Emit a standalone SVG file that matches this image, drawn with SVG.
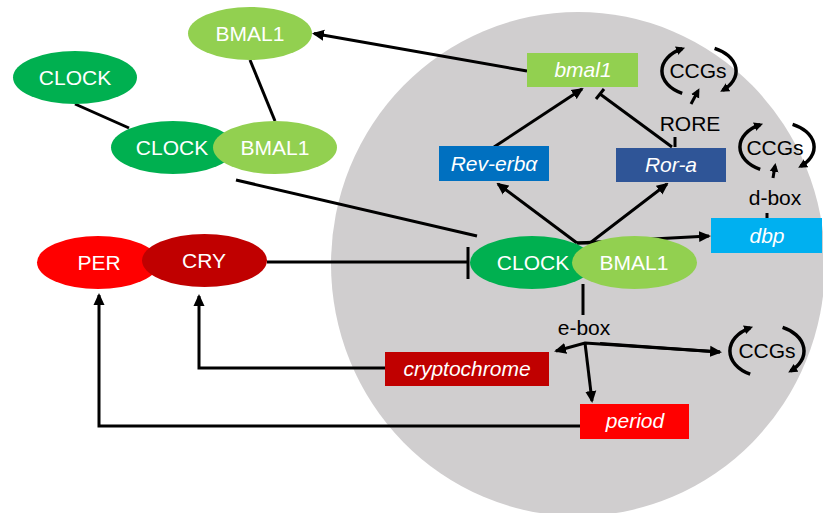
<svg xmlns="http://www.w3.org/2000/svg" width="823" height="513" viewBox="0 0 823 513">
<defs>
<style>
.t{font-family:"Liberation Sans",Arial,sans-serif;font-size:21px;text-anchor:middle}
.w{fill:#fff}
.k{fill:#000}
.i{font-style:italic}
.c{stroke:#000;stroke-width:3;fill:none}
.a{stroke:#000;stroke-width:3.5;fill:none}
</style>
<marker id="arr" markerUnits="userSpaceOnUse" viewBox="0 0 12 12" markerWidth="12" markerHeight="12" refX="10" refY="6" orient="auto"><path d="M0,0.5 L12,6 L0,11.5 z" fill="#000"/></marker>
<marker id="sarr" markerUnits="userSpaceOnUse" viewBox="0 0 10 10" markerWidth="10" markerHeight="10" refX="6" refY="5" orient="auto"><path d="M0,0.5 L9,5 L0,9.5 z" fill="#000"/></marker>
</defs>
<rect width="823" height="513" fill="#fff"/>
<ellipse id="nucleus" cx="578" cy="264" rx="247" ry="252" fill="#D0CECF"/>

<g id="connectors">
<line class="c" x1="527" y1="71" x2="314" y2="33.5" marker-end="url(#arr)"/>
<line class="c" x1="250" y1="60" x2="275" y2="121"/>
<line class="c" x1="75" y1="104" x2="129" y2="128"/>
<line class="c" x1="236" y1="180" x2="477" y2="236"/>
<line class="c" x1="267" y1="262" x2="468" y2="262"/>
<line class="c" x1="468" y1="247" x2="468" y2="279"/>
<line class="c" x1="577" y1="243" x2="498" y2="184" marker-end="url(#arr)"/>
<polyline class="c" points="577,243 590,243 667,184" marker-end="url(#arr)"/>
<line class="c" x1="577" y1="243" x2="709" y2="236" marker-end="url(#arr)"/>
<line class="c" x1="494" y1="147" x2="582" y2="89" marker-end="url(#arr)"/>
<line class="c" x1="672" y1="147" x2="600" y2="94"/>
<line class="c" x1="596" y1="99" x2="604" y2="89"/>
<line class="c" x1="675" y1="147" x2="675" y2="137"/>
<line class="c" x1="691" y1="104" x2="698" y2="91" marker-end="url(#sarr)"/>
<line class="c" x1="767" y1="213" x2="767" y2="218"/>
<line class="c" x1="773" y1="178" x2="775" y2="166" marker-end="url(#sarr)"/>
<line class="c" x1="583" y1="284" x2="583" y2="315"/>
<polyline class="c" points="720,352 585,343 556,351" marker-end="url(#arr)"/>
<line class="c" x1="600" y1="343.5" x2="720" y2="352" marker-end="url(#arr)"/>
<line class="c" x1="585" y1="343" x2="592" y2="401" marker-end="url(#arr)"/>
<polyline class="c" points="385,368 199,368 199,296" marker-end="url(#arr)"/>
<polyline class="c" points="580,426 99,426 99,295" marker-end="url(#arr)"/>
</g>

<g id="ccgs-top">
<path class="a" d="M682.2,93.3 A37,25 0 0 1 682.2,48.7" marker-end="url(#sarr)"/>
<path class="a" d="M714.6,48.3 A37,25 0 0 1 722.8,90.2" marker-end="url(#sarr)"/>
<text class="t k" x="698" y="78">CCGs</text>
</g>
<g id="ccgs-right">
<path class="a" d="M760.2,169.3 A37,25 0 0 1 760.2,124.7" marker-end="url(#sarr)"/>
<path class="a" d="M792.6,124.3 A37,25 0 0 1 800.8,166.2" marker-end="url(#sarr)"/>
<text class="t k" x="775" y="155">CCGs</text>
</g>
<g id="ccgs-bottom">
<path class="a" d="M750.2,374.2 A37,26 0 0 1 750.2,327.8" marker-end="url(#sarr)"/>
<path class="a" d="M782.6,327.4 A37,26 0 0 1 790.8,370.9" marker-end="url(#sarr)"/>
<text class="t k" x="767" y="358">CCGs</text>
</g>

<g id="rore"><text class="t k" x="690" y="131">RORE</text></g>
<g id="dbox"><text class="t k" x="775" y="205">d-box</text></g>
<g id="ebox"><text class="t k" x="584" y="335">e-box</text></g>

<g id="bmal1-top">
<ellipse cx="250" cy="33.5" rx="62" ry="26.5" fill="#92D050"/>
<text class="t w" x="250" y="41">BMAL1</text>
</g>
<g id="clock-top">
<ellipse cx="75" cy="77.5" rx="62" ry="26.5" fill="#00B050"/>
<text class="t w" x="75" y="85">CLOCK</text>
</g>
<g id="complex-left">
<ellipse cx="173" cy="147.5" rx="62" ry="26.5" fill="#00B050"/>
<ellipse cx="275" cy="147.5" rx="62" ry="26.5" fill="#92D050"/>
<text class="t w" x="172" y="155">CLOCK</text>
<text class="t w" x="275" y="155">BMAL1</text>
</g>
<g id="per-cry">
<ellipse cx="98" cy="262.5" rx="61" ry="26.5" fill="#FF0000"/>
<ellipse cx="204.5" cy="260.5" rx="62.5" ry="26.5" fill="#C00000"/>
<text class="t w" x="99" y="270">PER</text>
<text class="t w" x="204" y="268">CRY</text>
</g>
<g id="complex-nucleus">
<ellipse cx="532" cy="262.5" rx="62" ry="26.5" fill="#00B050"/>
<ellipse cx="634.5" cy="262.5" rx="62.5" ry="26.5" fill="#92D050"/>
<text class="t w" x="533" y="270">CLOCK</text>
<text class="t w" x="634" y="270">BMAL1</text>
</g>
<g id="bmal1-gene">
<rect x="527" y="53" width="111" height="34" fill="#92D050"/>
<text class="t w i" x="583" y="77">bmal1</text>
</g>
<g id="rev-erba">
<rect x="439" y="146" width="110" height="35" fill="#0070C0"/>
<text class="t w i" x="494" y="171">Rev-erbα</text>
</g>
<g id="ror-a">
<rect x="616" y="148" width="110" height="34" fill="#2F5597"/>
<text class="t w i" x="671" y="172">Ror-a</text>
</g>
<g id="dbp">
<rect x="711" y="218" width="111" height="35" fill="#00B0F0"/>
<text class="t w i" x="767" y="243">dbp</text>
</g>
<g id="cryptochrome">
<rect x="385" y="352" width="164" height="34" fill="#C00000"/>
<text class="t w i" x="467" y="376">cryptochrome</text>
</g>
<g id="period">
<rect x="580" y="404" width="109" height="35" fill="#FF0000"/>
<text class="t w i" x="635" y="428">period</text>
</g>
</svg>
